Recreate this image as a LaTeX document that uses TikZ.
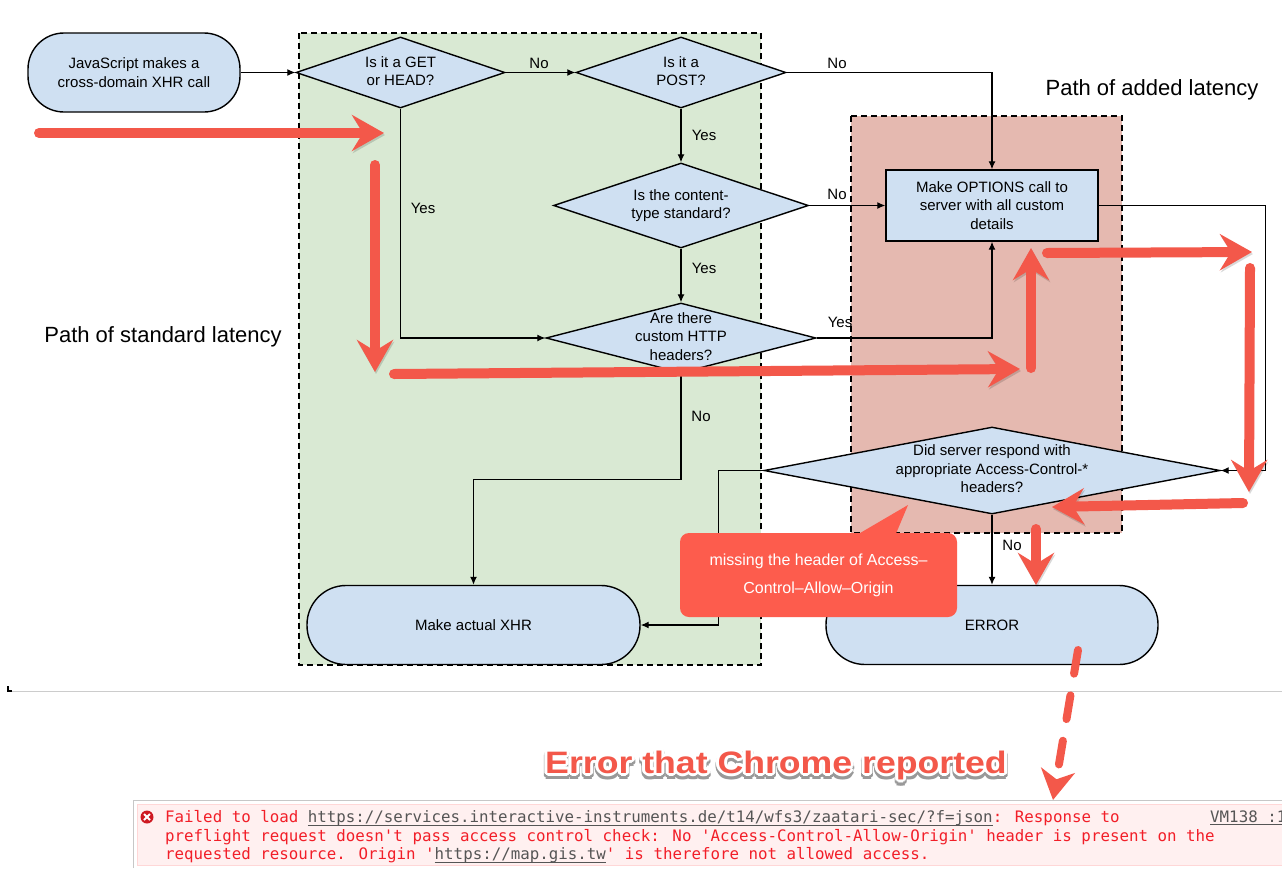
\documentclass[tikz,border=0pt]{standalone}
\usepackage{fontspec}
\setmainfont{Liberation Sans}
\newfontfamily\consolefont{DejaVu Sans Mono}
\usetikzlibrary{arrows.meta,positioning,calc,shapes.geometric}
\definecolor{NodeBlue}{RGB}{207,224,242}
\definecolor{ZoneGreen}{RGB}{217,233,211}
\definecolor{ZoneRed}{RGB}{229,185,176}
\definecolor{MarkRed}{RGB}{243,88,74}
\definecolor{CalloutRed}{RGB}{253,92,77}
\definecolor{ConsoleBg}{RGB}{255,240,240}
\definecolor{ConsoleLine}{RGB}{255,215,215}
\definecolor{ConsoleRed}{RGB}{242,30,40}
\definecolor{LinkGray}{RGB}{85,85,85}
\newcommand{\nodefont}{\fontsize{15}{18.5}\selectfont}
\newcommand{\dtxt}[1]{\smash{\raisebox{-0.25em}{\makebox[0pt]{\begin{tabular}{@{}c@{}}#1\end{tabular}}}}}
\newsavebox{\lnkbox}
\newcommand{\ulnk}[1]{\sbox{\lnkbox}{#1}\textcolor{LinkGray}{\rlap{\rule[-2.6pt]{\wd\lnkbox}{0.9pt}}#1}}

\begin{document}
\begin{tikzpicture}[
    x=1pt,y=-1pt,
    every node/.style={font=\nodefont},
    box/.style={draw,line width=1.4pt,fill=NodeBlue,align=center,inner sep=0pt},
    startbox/.style={box,rounded corners=36pt,minimum width=212pt,minimum height=79pt},
    endbox/.style={box,rounded corners=39pt,minimum width=333pt,minimum height=79pt},
    stepbox/.style={box,minimum width=212pt,minimum height=71pt},
    decision/.style={draw,line width=1.4pt,fill=NodeBlue,diamond,inner sep=0pt},
    zone/.style={draw,line width=1.3pt,dash pattern=on 6pt off 4pt},
    lbl/.style={inner sep=1pt},
    link/.style={-{Latex[length=8pt,width=7pt]},line width=1.2pt},
    redarrow/.style={line width=10pt,MarkRed,line cap=round,
      -{Stealth[length=32pt,width=36pt,inset=11pt]},
      preaction={draw=black,opacity=0.15,transform canvas={shift={(1pt,-2pt)}}}},
    reddash/.style={line width=8pt,MarkRed,line cap=round,dash pattern=on 24pt off 22pt,
      -{Stealth[length=30pt,width=34pt,inset=9pt]}},
    bigerr/.style={font=\fontsize{31}{36}\selectfont\bfseries,inner sep=0pt}
  ]
  \useasboundingbox[fill=white] (0,0) rectangle (1282,868);

  % zones
  \draw[zone,fill=ZoneGreen] (299,33) rectangle (761,665);
  \draw[zone,fill=ZoneRed] (851,116) rectangle (1122,533);
  \node[font=\fontsize{22}{26}\selectfont] (stdlat) at (163,337) {Path of standard latency};
  \node[font=\fontsize{22}{26}\selectfont] (addlat) at (1152,90) {Path of added latency};

  % flow chart
  \node[startbox] (js) at (134,72.5) {JavaScript makes a\\cross-domain XHR call};
  \node[decision,minimum width=209pt,minimum height=71pt] (get) at (400.5,72.5) {\dtxt{Is it a GET\\or HEAD?}};
  \node[decision,minimum width=210pt,minimum height=71pt] (post) at (681,72.5) {\dtxt{Is it a\\POST?}};
  \node[decision,minimum width=255pt,minimum height=85pt] (ctype) at (681,205.5) {\dtxt{Is the content-\\type standard?}};
  \node[decision,minimum width=270pt,minimum height=70pt] (hdrs) at (681,338) {\dtxt{Are there\\custom HTTP\\headers?}};
  \node[stepbox] (opts) at (992,205.5) {Make OPTIONS call to\\server with all custom\\details};
  \node[decision,minimum width=456pt,minimum height=87pt] (resp) at (992,470.5) {\dtxt{Did server respond with\\appropriate Access-Control-*\\headers?}};
  \node[endbox] (xhr) at (473.5,625) {Make actual XHR};
  \node[endbox,minimum width=332pt] (err) at (992,625) {ERROR};

  \draw[link] (js.east) -- (get.west);
  \draw[link] (get.east) -- (post.west);
  \draw[link] (post.east) -| (opts.north);
  \draw[link] (post.south) -- (ctype.north);
  \draw[link] (ctype.east) -- (opts.west);
  \draw[link] (ctype.south) -- (hdrs.north);
  \draw[link] (hdrs.east) -| (opts.south);
  \draw[link] (get.south) |- (hdrs.west);
  \draw[link] (hdrs.south) -- ++(0,106) -| (xhr.north);
  \draw[link] (opts.east) -- ++(167,0) |- (resp.east);
  \draw[link] (resp.west) -- ++(-45,0) |- (xhr.east);
  \draw[link] (resp.south) -- (err.north);

  \node[lbl] (no1) at (539,63) {No};
  \node[lbl] (no2) at (837,63) {No};
  \node[lbl] (yes1) at (704,135) {Yes};
  \node[lbl] (no3) at (837,194) {No};
  \node[lbl] (yes2) at (704,268) {Yes};
  \node[lbl] (yes3) at (840,322) {Yes};
  \node[lbl] (yes4) at (423,208) {Yes};
  \node[lbl] (no4) at (701,416) {No};
  \node[lbl] (no5) at (1012,545) {No};

  % red marks
  \draw[redarrow] (39,133) -- (384,133);
  \draw[redarrow] (375,165) -- (375,372);
  \draw[redarrow] (394,374) -- (1020,369);
  \draw[redarrow] (1031,368) -- (1031,248);
  \draw[redarrow] (1047,253) -- (1252,252);
  \draw[redarrow] (1250,268) -- (1249,492);
  \draw[redarrow] (1243,503) -- (1052,507);
  \draw[redarrow] (1036,529) -- (1036,585);

  \node[fill=CalloutRed,rounded corners=9pt,minimum width=277pt,minimum height=84pt,
    text=white,align=center,font=\fontsize{16}{28}\selectfont] (miss) at (818.5,575)
    {missing the header of Access--\\Control--Allow--Origin};
  \fill[CalloutRed] (855,536) -- (908,505) -- (895,536) -- cycle;

  % screenshot edge
  \draw[black!20,line width=1pt] (8,691) -- (1282,691);
  \draw[black,line width=1.5pt] (8,686) -- (8,691) -- (12,691);

  \draw[reddash] (1078,650) -- (1053,800);

  % chrome error
  \foreach \a in {0,30,...,330}
    \node[bigerr,text=black!40] (errsh\a) at ($(776,768)+(\a:3.5)$) {\scalebox{1.15}[1]{Error that Chrome reported}};
  \foreach \a in {0,30,...,330}
    \node[bigerr,text=white] (errwh\a) at ($(776,765)+(\a:3)$) {\scalebox{1.15}[1]{Error that Chrome reported}};
  \node[bigerr,text=MarkRed] (errtitle) at (776,765) {\scalebox{1.15}[1]{Error that Chrome reported}};

  \fill[ConsoleBg] (137,804) rectangle (1282,865);
  \draw[ConsoleLine,line width=1pt] (137,865) -- (137,804) -- (1282,804);
  \draw[ConsoleLine,line width=1pt] (137,865) -- (1282,865);
  \draw[black!22,line width=1pt] (133,868) -- (133,800) -- (1282,800);
  \node[circle,fill=ConsoleRed!85!black,minimum size=13pt,inner sep=0pt] (icon) at (147,817) {};
  \draw[white,line width=1.8pt] ($(icon.center)+(-3,-3)$) -- ($(icon.center)+(3,3)$);
  \draw[white,line width=1.8pt] ($(icon.center)+(-3,3)$) -- ($(icon.center)+(3,-3)$);
  \node[anchor=north west,inner sep=0pt,align=left,text=ConsoleRed,
    font=\consolefont\fontsize{15.8}{18.5}\selectfont] (msg) at (165,810.5)
    {Failed to load \ulnk{https://services.interactive-instruments.de/t14/wfs3/zaatari-sec/?f=json}: Response to\\
     preflight request doesn't pass access control check: No 'Access-Control-Allow-Origin' header is present on the\\
     requested resource. Origin '\ulnk{https://map.gis.tw}' is therefore not allowed access.};
  \node[anchor=base west,inner sep=0pt,font=\consolefont\fontsize{15.8}{18.5}\selectfont] (vm) at (1210,822) {\ulnk{VM138 :1}};
\end{tikzpicture}
\end{document}
